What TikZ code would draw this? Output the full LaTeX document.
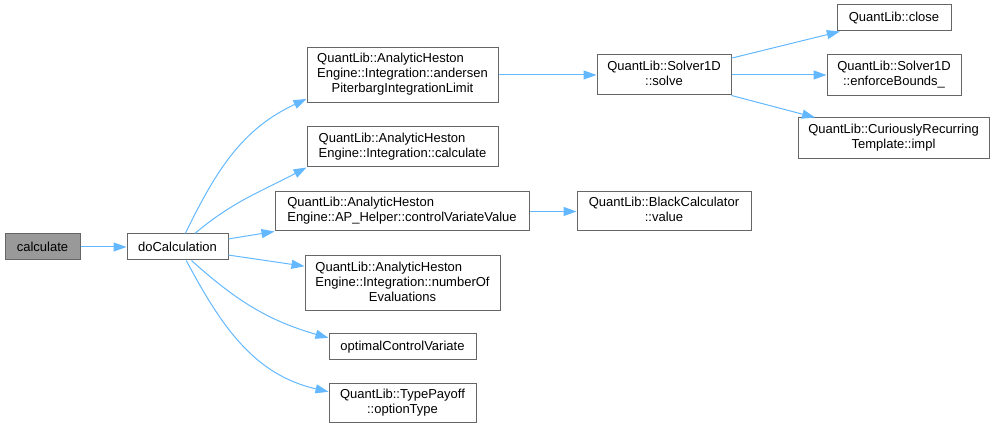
\documentclass[tikz,border=0pt]{standalone}
\usepackage{fontspec}
\setmainfont{Liberation Sans}
\usepackage{tikz}
\usetikzlibrary{arrows.meta, positioning}
\definecolor{edgeblue}{HTML}{63B8FF}
\definecolor{boxgray}{HTML}{666666}
\definecolor{rootgray}{HTML}{999999}
% lines left aligned, last one centred
\newcommand{\fnlabel}[2]{\begin{tabular}{@{}l@{}}#1\\\multicolumn{1}{@{}c@{}}{#2}\end{tabular}}

\begin{document}
\begin{tikzpicture}[x=1pt, y=1pt,
  fn/.style={draw=boxgray, fill=white, line width=1pt, inner sep=0pt, font=\fontsize{13}{15}\selectfont},
  call/.style={draw=edgeblue, line width=1pt, -{Triangle[length=13pt, width=9pt]}}]
  \useasboundingbox (0,0) rectangle (995,430);
  % --- Appelant ---
  \node[fn, fill=rootgray, minimum width=75pt, minimum height=26pt] (calculate) at (42.5,183) {calculate};
  \node[fn, minimum width=101pt, minimum height=26pt] (docalc) at (177.5,183) {doCalculation};
  % --- Appels directs ---
  \node[fn, minimum width=191pt, minimum height=55pt] (andersen) at (402.5,355)
    {\fnlabel{QuantLib::AnalyticHeston\\Engine::Integration::andersen}{PiterbargIntegrationLimit}};
  \node[fn, minimum width=191pt, minimum height=40pt] (integcalc) at (402.5,283)
    {\fnlabel{QuantLib::AnalyticHeston}{Engine::Integration::calculate}};
  \node[fn, minimum width=254pt, minimum height=39pt] (cvvalue) at (402,218.5)
    {\fnlabel{QuantLib::AnalyticHeston}{Engine::AP\_Helper::controlVariateValue}};
  \node[fn, minimum width=195pt, minimum height=55pt] (numevals) at (402.5,146.5)
    {\fnlabel{QuantLib::AnalyticHeston\\Engine::Integration::numberOf}{Evaluations}};
  \node[fn, minimum width=147pt, minimum height=26pt] (optimal) at (402.5,83) {optimalControlVariate};
  \node[fn, minimum width=147pt, minimum height=39pt] (optiontype) at (402.5,26.5)
    {\fnlabel{QuantLib::TypePayoff}{::optionType}};
  % --- Appels de second niveau ---
  \node[fn, minimum width=134pt, minimum height=40pt] (solve) at (664,355)
    {\fnlabel{QuantLib::Solver1D}{::solve}};
  \node[fn, minimum width=174pt, minimum height=39pt] (blackvalue) at (664,218.5)
    {\fnlabel{QuantLib::BlackCalculator}{::value}};
  \node[fn, minimum width=114pt, minimum height=26pt] (close) at (894,412) {QuantLib::close};
  \node[fn, minimum width=134pt, minimum height=41pt] (enforce) at (894,355)
    {\fnlabel{QuantLib::Solver1D}{::enforceBounds\_}};
  \node[fn, minimum width=191pt, minimum height=41pt] (impl) at (893.5,291.5)
    {\fnlabel{QuantLib::CuriouslyRecurring}{Template::impl}};
  % --- Liens ---
  \draw[call] (calculate) -- (docalc);
  \draw[call] (docalc.60) to[out=64, in=205] (andersen.194);
  \draw[call] (docalc.38) to[out=40, in=208] (integcalc.south west);
  \draw[call] (docalc.9) -- (cvvalue.south west);
  \draw[call] (docalc.-9) -- (numevals.170);
  \draw[call] (docalc.-44) to[out=-42, in=164] (optimal.173);
  \draw[call] (docalc.-57) to[out=-62, in=167] (optiontype.171);
  \draw[call] (andersen.east) -- (solve.west);
  \draw[call] (cvvalue.east) -- (blackvalue.west);
  \draw[call] (solve.14) -- (close.194);
  \draw[call] (solve.east) -- (enforce.west);
  \draw[call] (solve.south east) -- (impl.165);
\end{tikzpicture}
\end{document}
